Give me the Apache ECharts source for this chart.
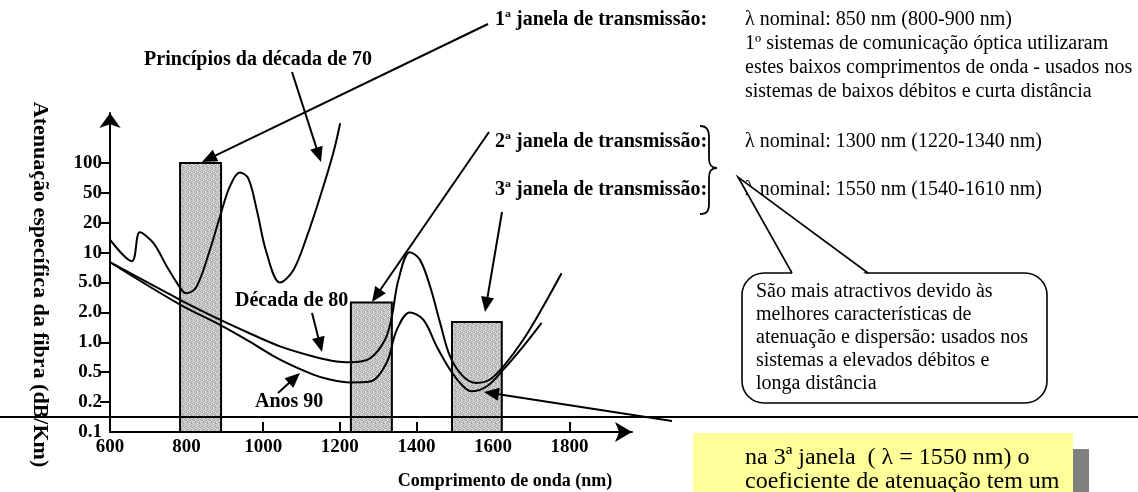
<!DOCTYPE html>
<html>
<head>
<meta charset="utf-8">
<script src="https://cdn.jsdelivr.net/npm/echarts@6/dist/echarts.min.js"></script>
<style>html,body{margin:0;padding:0;background:#fff}#c{width:1138px;height:492px}</style>
</head>
<body>
<div id="c"></div>
<script>
// ---- data (wavelength nm, attenuation dB/km) ----
const yTickValues = [0.1, 0.2, 0.5, 1, 2, 5, 10, 20, 50, 100];
const yTickLabels = ['0.1', '0.2', '0.5', '1.0', '2.0', '5.0', '10', '20', '50', '100'];
const xTickLabels = [600, 800, 1000, 1200, 1400, 1600, 1800];
// transmission windows drawn as bars: [from nm, to nm, height dB/km]
const windows = [[783, 890, 100], [1229, 1336, 2.71], [1493, 1623, 1.60]];
const decada70 = [[600, 13.5], [657, 8.2], [678, 16.0], [713, 12.5], [748, 7.3], [787, 4.0], [800, 3.6], [826, 4.4], [861, 10.7], [887, 24], [913, 58], [939, 80], [961, 70], [983, 30], [1009, 9.9], [1044, 5.0], [1079, 6.7], [1114, 14.5], [1149, 45], [1183, 126], [1201, 270]];
const decada80 = [[600, 8.0], [783, 2.94], [887, 1.69], [957, 1.27], [1044, 0.91], [1131, 0.72], [1192, 0.64], [1227, 0.63], [1279, 0.69], [1318, 1.06], [1336, 1.83], [1353, 5.3], [1383, 10.1], [1409, 8.5], [1436, 4.4], [1462, 1.57], [1488, 0.72], [1522, 0.44], [1557, 0.36], [1592, 0.40], [1627, 0.57], [1679, 1.06], [1731, 2.4], [1779, 6.2]];
const anos90 = [[600, 8.0], [783, 2.54], [887, 1.50], [957, 1.06], [1044, 0.67], [1131, 0.465], [1174, 0.40], [1227, 0.366], [1279, 0.376], [1322, 0.62], [1349, 1.34], [1383, 2.0], [1418, 1.69], [1453, 0.91], [1488, 0.53], [1522, 0.325], [1544, 0.278], [1584, 0.325], [1627, 0.53], [1679, 0.91], [1727, 1.57]];

// the reference draws the 1-2-5 ticks equally spaced; map a value to its tick position
const ext = yTickValues.concat([200, 500]);
function toPos(v) {
  for (let i = 0; i < ext.length - 1; i++) {
    if (v <= ext[i + 1]) return i + Math.log(v / ext[i]) / Math.log(ext[i + 1] / ext[i]);
  }
  return ext.length - 1;
}
const conv = arr => arr.map(p => [p[0], toPos(p[1])]);

// bar texture (fixed pattern)
const pc = document.createElement('canvas'); pc.width = 8; pc.height = 8;
const pctx = pc.getContext('2d');
const shades = ['#a0a0a0', '#b8b8b8', '#cdcdcd', '#e4e4e4'];
const rows = ['21320312', '13021230', '30213102', '02130321', '21032013', '13210230', '32103102', '03121320'];
rows.forEach((r, y) => { for (let x = 0; x < 8; x++) { pctx.fillStyle = shades[+r[x]]; pctx.fillRect(x, y, 1, 1); } });

const SERIF = '"Liberation Serif", "Times New Roman", serif';
const B20 = 'bold 20px ' + SERIF;
const R20 = '20px ' + SERIF;

function txt(x, y, s, font, align) {
  return { type: 'text', z: 100, x: x, y: y, style: { text: s, font: font, fill: '#000', align: align || 'left', verticalAlign: 'middle' } };
}
function arrow(x1, y1, x2, y2) {
  const dx = x2 - x1, dy = y2 - y1, L = Math.hypot(dx, dy), ux = dx / L, uy = dy / L;
  const hl = 15, hw = 6.5, bx = x2 - ux * hl, by = y2 - uy * hl;
  return [
    { type: 'line', z: 100, shape: { x1: x1, y1: y1, x2: bx + ux * 2, y2: by + uy * 2 }, style: { stroke: '#000', lineWidth: 2 } },
    { type: 'polygon', z: 100, shape: { points: [[x2, y2], [bx - uy * hw, by + ux * hw], [bx + uy * hw, by - ux * hw]] }, style: { fill: '#000' } }
  ];
}
function bez(x1, y1, c1x, c1y, c2x, c2y, x2, y2) {
  return { type: 'bezierCurve', z: 100, shape: { x1: x1, y1: y1, cpx1: c1x, cpy1: c1y, cpx2: c2x, cpy2: c2y, x2: x2, y2: y2 }, style: { stroke: '#000', lineWidth: 1.8, fill: null } };
}

const graphics = [];
// full-width rule
graphics.push({ type: 'line', z: 100, shape: { x1: 0, y1: 417, x2: 1138, y2: 417 }, style: { stroke: '#000', lineWidth: 2 } });
// annotation labels
graphics.push(txt(258, 60, 'Princípios da década de 70', B20, 'center'));
graphics.push(txt(235, 301, 'Década de 80', B20));
graphics.push(txt(255, 402, 'Anos 90', B20));
graphics.push(txt(495, 20, '1ª janela de transmissão:', B20));
graphics.push(txt(495, 142, '2ª janela de transmissão:', B20));
graphics.push(txt(495, 190, '3ª janela de transmissão:', B20));
const right1 = ['λ nominal: 850 nm (800-900 nm)', '1º sistemas de comunicação óptica utilizaram', 'estes baixos comprimentos de onda - usados nos', 'sistemas de baixos débitos e curta distância'];
right1.forEach((s, i) => graphics.push(txt(745, 20 + 24 * i, s, R20)));
graphics.push(txt(745, 142, 'λ nominal: 1300 nm (1220-1340 nm)', R20));
graphics.push(txt(745, 190, 'λ nominal: 1550 nm (1540-1610 nm)', R20));
// brace
graphics.push(bez(700, 126, 707, 126, 709, 130, 709, 138));
graphics.push({ type: 'line', z: 100, shape: { x1: 709, y1: 138, x2: 709, y2: 158 }, style: { stroke: '#000', lineWidth: 1.8 } });
graphics.push(bez(709, 158, 709, 165, 711, 168, 717, 168));
graphics.push(bez(717, 168, 711, 168, 709, 171, 709, 178));
graphics.push({ type: 'line', z: 100, shape: { x1: 709, y1: 178, x2: 709, y2: 204 }, style: { stroke: '#000', lineWidth: 1.8 } });
graphics.push(bez(709, 204, 709, 211, 707, 214, 700, 214));
// callout
graphics.push({ type: 'rect', z: 100, shape: { x: 742, y: 273, width: 305, height: 130, r: 22 }, style: { fill: '#fff', stroke: '#000', lineWidth: 1.6 } });
graphics.push({ type: 'polygon', z: 101, shape: { points: [[793, 275], [738, 177], [867, 275]] }, style: { fill: '#fff' } });
graphics.push({ type: 'polyline', z: 102, shape: { points: [[792, 273], [738, 177], [868, 273]] }, style: { stroke: '#000', lineWidth: 1.6, fill: null } });
const callout = ['São mais atractivos devido às', 'melhores características de', 'atenuação e dispersão: usados nos', 'sistemas a elevados débitos e', 'longa distância'];
callout.forEach((s, i) => graphics.push(Object.assign(txt(756, 292 + 23 * i, s, R20), { z: 103 })));
// yellow note
graphics.push({ type: 'rect', z: 100, shape: { x: 708, y: 449, width: 381, height: 60 }, style: { fill: '#808080' } });
graphics.push({ type: 'rect', z: 101, shape: { x: 693, y: 433, width: 380, height: 70 }, style: { fill: '#ffff99' } });
graphics.push(Object.assign(txt(745, 458, 'na 3ª janela  ( λ = 1550 nm) o', '24px ' + SERIF), { z: 102 }));
graphics.push(Object.assign(txt(745, 482, 'coeficiente de atenuação tem um', '24px ' + SERIF), { z: 102 }));
// arrows
[[488, 24, 202, 162], [292, 72, 321, 162], [489, 132, 372, 302], [502, 212, 485, 312], [312, 313, 322, 352], [278, 393, 300, 373], [672, 421, 484, 392]]
  .forEach(a => arrow.apply(null, a).forEach(g => graphics.push(g)));

const chart = echarts.init(document.getElementById('c'), null, { renderer: 'canvas' });
const lineStyle = { color: '#000', width: 2 };
chart.setOption({
  animation: false,
  backgroundColor: '#fff',
  grid: { left: 110, right: 506, top: 113, bottom: 60, outerBoundsMode: 'none' },
  xAxis: {
    type: 'value', min: 600, max: 1963, interval: 200,
    axisLine: { show: true, symbol: ['none', 'arrow'], symbolSize: [15, 17], lineStyle: { color: '#000', width: 2 } },
    axisTick: { show: true, inside: true, length: 10, customValues: [800, 1000, 1200, 1400, 1600, 1800], lineStyle: { color: '#000', width: 2 } },
    axisLabel: { customValues: xTickLabels, formatter: v => String(v), margin: 6, color: '#000', fontFamily: SERIF, fontWeight: 'bold', fontSize: 19 },
    splitLine: { show: false },
    name: 'Comprimento de onda (nm)', nameLocation: 'middle', nameGap: 40,
    nameTextStyle: { color: '#000', fontFamily: SERIF, fontWeight: 'bold', fontSize: 18, padding: [0, 0, 0, 268] }
  },
  yAxis: {
    type: 'value', min: 0, max: 10.67, interval: 1,
    axisLine: { show: true, onZero: false, symbol: ['none', 'arrow'], symbolSize: [16, 15], lineStyle: { color: '#000', width: 2 } },
    axisTick: { show: true, length: 10, customValues: [1, 2, 3, 4, 5, 6, 7, 8, 9], lineStyle: { color: '#000', width: 2 } },
    axisLabel: { customValues: [0, 1, 2, 3, 4, 5, 6, 7, 8, 9], formatter: v => yTickLabels[Math.round(v)], margin: 8, color: '#000', fontFamily: SERIF, fontWeight: 'bold', fontSize: 19 },
    splitLine: { show: false },
    name: 'Atenuação específica da fibra (dB/Km)', nameLocation: 'middle', nameRotate: -90, nameGap: 59,
    nameTextStyle: { color: '#000', fontFamily: SERIF, fontWeight: 'bold', fontSize: 22, padding: [0, 0, 0, 24] }
  },
  series: [
    {
      type: 'custom', z: 2,
      data: windows,
      renderItem: function (params, api) {
        const p0 = api.coord([api.value(0), toPos(api.value(2))]);
        const p1 = api.coord([api.value(1), 0]);
        return { type: 'rect', shape: { x: p0[0], y: p0[1], width: p1[0] - p0[0], height: p1[1] - p0[1] },
          style: { fill: { image: pc, repeat: 'repeat' }, stroke: '#000', lineWidth: 2 } };
      },
      encode: { x: [0, 1] }
    },
    { type: 'line', z: 5, data: conv(decada70), smooth: 0.35, showSymbol: false, lineStyle: lineStyle },
    { type: 'line', z: 5, data: conv(decada80), smooth: 0.35, showSymbol: false, lineStyle: lineStyle },
    { type: 'line', z: 5, data: conv(anos90), smooth: 0.35, showSymbol: false, lineStyle: lineStyle }
  ],
  graphic: { elements: graphics }
});
</script>
</body>
</html>
